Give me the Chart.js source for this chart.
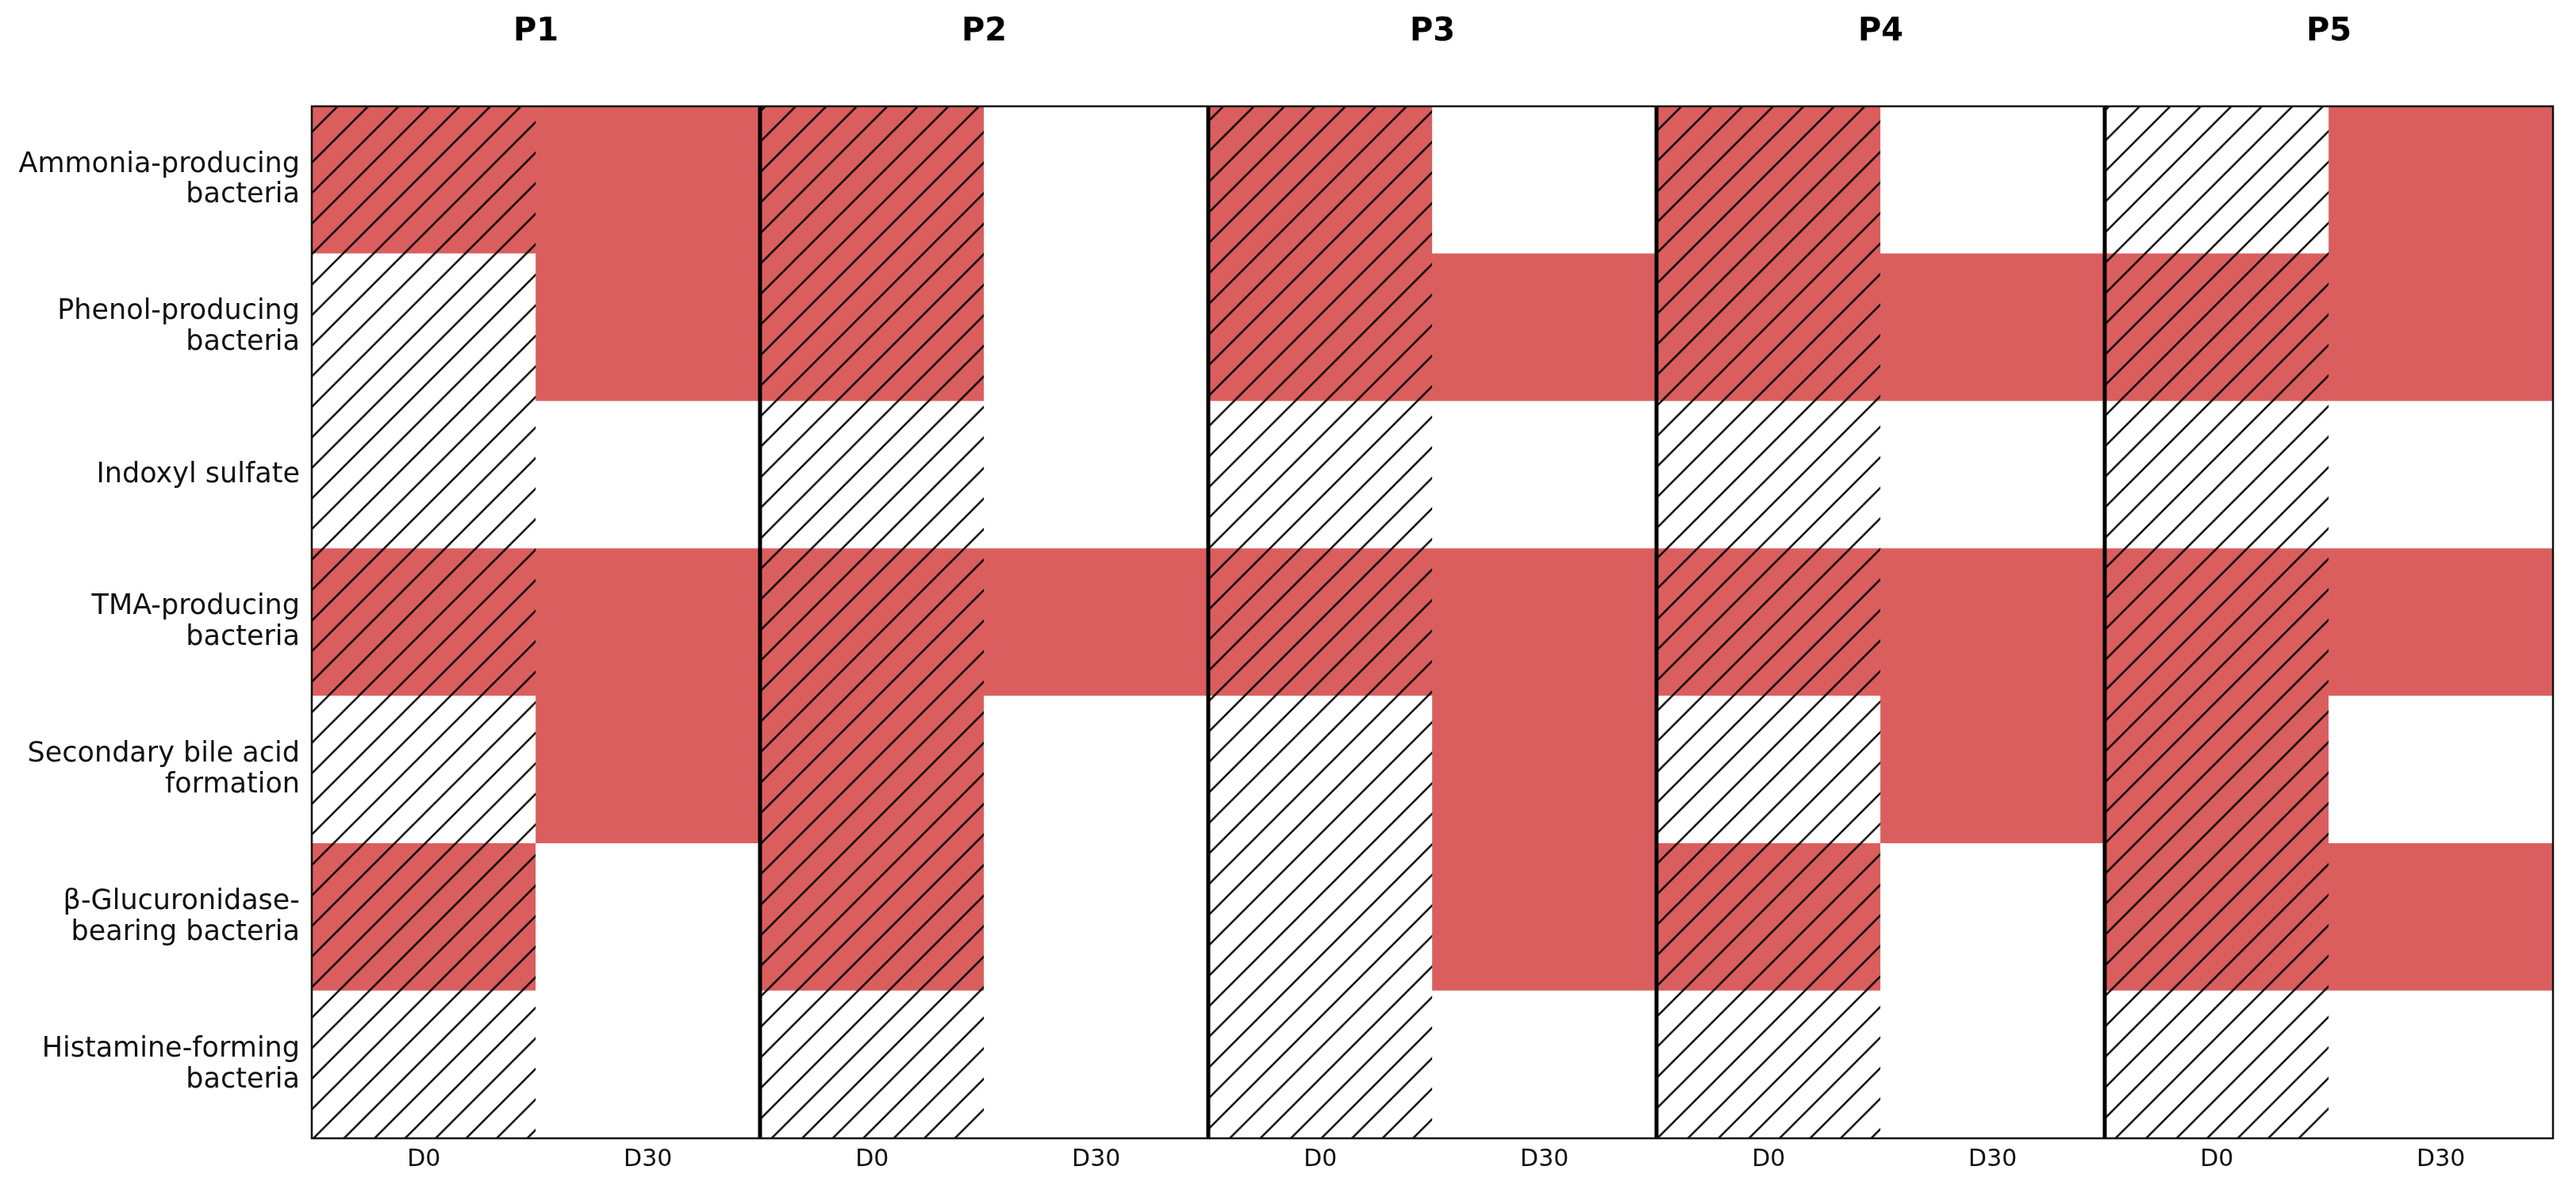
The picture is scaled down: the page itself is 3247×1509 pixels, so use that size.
<!DOCTYPE html>
<html>
<head>
<meta charset="utf-8">
<script src="https://cdn.jsdelivr.net/npm/chart.js@4/dist/chart.umd.min.js"></script>
<style>
  html, body { margin: 0; padding: 0; background: #ffffff; }
  #c { display: block; }
</style>
</head>
<body>
<canvas id="c" width="3247" height="1509"></canvas>
<script>
// ---------- data ----------
const patients = ['P1', 'P2', 'P3', 'P4', 'P5'];
const days = ['D0', 'D30'];
const rowLabels = [
  ['Ammonia-producing', 'bacteria'],
  ['Phenol-producing', 'bacteria'],
  'Indoxyl sulfate',
  ['TMA-producing', 'bacteria'],
  ['Secondary bile acid', 'formation'],
  ['\u03B2-Glucuronidase-', 'bearing bacteria'],
  ['Histamine-forming', 'bacteria']
];
// columns: P1 D0, P1 D30, P2 D0, P2 D30, ... P5 D30   (1 = elevated / red)
const ammonia       = [1, 1, 1, 0, 1, 0, 1, 0, 0, 1];
const phenol        = [0, 1, 1, 0, 1, 1, 1, 1, 1, 1];
const indoxyl       = [0, 0, 0, 0, 0, 0, 0, 0, 0, 0];
const tma           = [1, 1, 1, 1, 1, 1, 1, 1, 1, 1];
const bileAcid      = [0, 1, 1, 0, 0, 1, 0, 1, 1, 0];
const glucuronidase = [1, 0, 1, 0, 0, 1, 1, 0, 1, 1];
const histamine     = [0, 0, 0, 0, 0, 0, 0, 0, 0, 0];
const rowValues = [ammonia, phenol, indoxyl, tma, bileAcid, glucuronidase, histamine];

// ---------- styles ----------
const RED = '#DB5E5E';
const WHITE = '#FFFFFF';
const FONT = "'DejaVu Sans', 'Liberation Sans', sans-serif";

function makeHatch(base) {
  const s = 40;
  const t = document.createElement('canvas');
  t.width = s; t.height = s;
  const g = t.getContext('2d');
  g.fillStyle = base;
  g.fillRect(0, 0, s, s);
  g.strokeStyle = '#000000';
  g.lineWidth = 2.5;
  g.lineCap = 'butt';
  for (const c of [0, s, 2 * s]) {
    g.beginPath();
    g.moveTo(c - s - 2, s + 2);
    g.lineTo(c + 2, -2);
    g.stroke();
  }
  const ctx = document.getElementById('c').getContext('2d');
  const p = ctx.createPattern(t, 'repeat');
  const k = 38.5 / s;
  p.setTransform(new DOMMatrix().translate(20.5, 0).scale(k));
  return p;
}
const hatchRed = makeHatch(RED);
const hatchWhite = makeHatch(WHITE);

// ---------- build chart data ----------
const columns = [];
patients.forEach(p => days.forEach(d => columns.push(p + ' ' + d)));

const datasets = rowValues.map((vals, r) => ({
  label: Array.isArray(rowLabels[r]) ? rowLabels[r].join(' ') : rowLabels[r],
  data: vals.map(() => 1),
  backgroundColor: vals.map((v, i) => {
    const hatched = (i % 2 === 0);
    if (v) return hatched ? hatchRed : RED;
    return hatched ? hatchWhite : WHITE;
  }),
  borderWidth: 0,
  barPercentage: 1,
  categoryPercentage: 1
})).reverse(); // stack from bottom row upward

const framePlugin = {
  id: 'frame',
  afterDatasetsDraw(chart) {
    const { ctx, chartArea: a, scales } = chart;
    const x = scales.x;
    ctx.save();
    ctx.strokeStyle = '#000000';
    // panel separators
    ctx.lineWidth = 5;
    for (let k = 1; k < patients.length; k++) {
      const px = (x.getPixelForValue(2 * k - 1) + x.getPixelForValue(2 * k)) / 2;
      ctx.beginPath();
      ctx.moveTo(px, a.top);
      ctx.lineTo(px, a.bottom);
      ctx.stroke();
    }
    // outer frame
    ctx.lineWidth = 2.5;
    ctx.strokeStyle = '#111111';
    ctx.strokeRect(a.left, a.top, a.right - a.left, a.bottom - a.top);
    ctx.restore();
  }
};

new Chart(document.getElementById('c'), {
  type: 'bar',
  data: { labels: columns, datasets },
  options: {
    responsive: false,
    animation: false,
    devicePixelRatio: 1,
    layout: { padding: { left: 0, right: 29, top: 0, bottom: 0 } },
    plugins: { legend: { display: false }, tooltip: { enabled: false }, title: { display: false } },
    scales: {
      x: {
        type: 'category',
        stacked: true,
        position: 'bottom',
        grid: { display: false, drawTicks: false },
        border: { display: false },
        ticks: {
          color: '#111111',
          font: { family: FONT, size: 30 },
          padding: 9,
          maxRotation: 0,
          autoSkip: false,
          callback: (v, i) => days[i % days.length]
        },
        afterFit: s => { s.height = 74; }
      },
      xTop: {
        type: 'category',
        labels: patients,
        position: 'top',
        offset: true,
        grid: { display: false, drawTicks: false },
        border: { display: false },
        ticks: {
          color: '#000000',
          font: { family: FONT, size: 40, weight: 'bold' },
          padding: 69,
          maxRotation: 0,
          autoSkip: false
        },
        afterFit: s => { s.height = 134; }
      },
      y: {
        type: 'linear',
        stacked: true,
        min: 0,
        max: rowLabels.length,
        display: false
      },
      yRows: {
        type: 'category',
        axis: 'y',
        labels: rowLabels,
        position: 'left',
        offset: true,
        grid: { display: false, drawTicks: false },
        border: { display: false },
        ticks: {
          color: '#111111',
          font: { family: FONT, size: 35, lineHeight: 1.11 },
          padding: 15,
          autoSkip: false
        },
        afterFit: s => { s.width = 393; }
      }
    }
  },
  plugins: [framePlugin]
});
</script>
</body>
</html>
